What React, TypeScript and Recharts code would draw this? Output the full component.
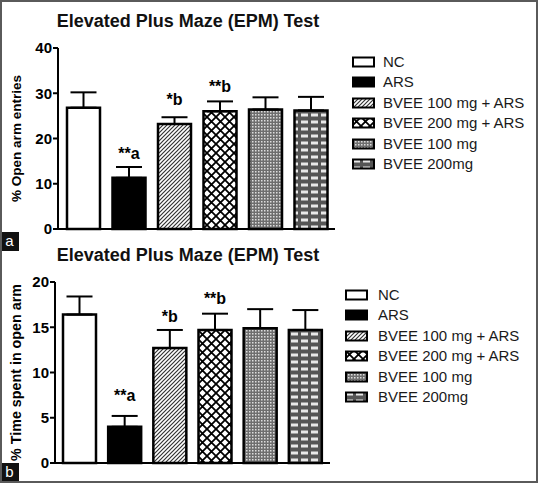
import React from "react";
import { BarChart, Bar, XAxis, YAxis, ErrorBar, Cell, LabelList } from "recharts";

const categories = [
    "NC",
    "ARS",
    "BVEE 100 mg + ARS",
    "BVEE 200 mg + ARS",
    "BVEE 100 mg",
    "BVEE 200mg",
];
const openArmMean = [26.8, 11.3, 23.2, 26.0, 26.4, 26.2];
const openArmErr = [3.4, 2.4, 1.5, 2.2, 2.7, 3.0];
const timeMean = [16.4, 4.0, 12.7, 14.7, 14.9, 14.7];
const timeErr = [2.0, 1.2, 2.0, 1.8, 2.1, 2.2];
const sigLabels = ["", "**a", "*b", "**b", "", ""];
const openArmTicks = [0, 10, 20, 30, 40];
const timeTicks = [0, 5, 10, 15, 20];

const fills = ["#fff", "#000", "url(#pB100A)", "url(#pB200A)", "url(#pB100)", "url(#pB200)"];
const FONT = "'Liberation Sans', Arial, sans-serif";

const build = (mean: number[], err: number[]) =>
    categories.map((name, i) => ({ name, value: mean[i], err: [0, err[i]], sig: sigLabels[i] }));

const Patterns = () => (
    <svg width={0} height={0} style={{ position: "absolute" }}>
        <defs>
            <pattern id="pB100A" width={4} height={4} patternUnits="userSpaceOnUse">
                <rect width={4} height={4} fill="#fff" />
                <path d="M0,4 L4,0 M-1,1 L1,-1 M3,5 L5,3" stroke="#333" strokeWidth={1.2} />
            </pattern>
            <pattern id="pB200A" width={9} height={9} patternUnits="userSpaceOnUse">
                <rect width={9} height={9} fill="#fff" />
                <path d="M0,0 L9,9 M9,0 L0,9" stroke="#000" strokeWidth={1.8} />
            </pattern>
            <pattern id="pB100" width={3} height={3} patternUnits="userSpaceOnUse">
                <rect width={3} height={3} fill="#6e6e6e" />
                <rect width={1.5} height={1.5} fill="#ddd" />
            </pattern>
            <pattern id="pB200" width={10} height={7} patternUnits="userSpaceOnUse">
                <rect width={10} height={7} fill="#555" />
                <rect x={1} y={1.5} width={7} height={3} fill="#e8e8e8" />
            </pattern>
        </defs>
    </svg>
);

interface PanelProps {
    top: number;
    width: number;
    height: number;
    marginTop: number;
    axisWidth: number;
    data: ReturnType<typeof build>;
    ticks: number[];
    yLabel: string;
    labelSize: number;
    labelOffset: number;
    padL: number;
    padR: number;
    sigOffset: number;
}

const Panel: React.FC<PanelProps> = ({
    top, width, height, marginTop, axisWidth, data, ticks, yLabel, labelSize, labelOffset, padL, padR, sigOffset,
}) => (
    <div style={{ position: "absolute", left: 0, top }}>
        <BarChart width={width} height={height} data={data} margin={{ top: marginTop, right: 10, left: 0, bottom: 0 }}>
            <XAxis
                dataKey="name"
                tick={false}
                tickLine={false}
                height={11}
                axisLine={{ stroke: "#000", strokeWidth: 2 }}
                padding={{ left: padL, right: padR }}
            />
            <YAxis
                width={axisWidth}
                domain={[ticks[0], ticks[ticks.length - 1]]}
                ticks={ticks}
                interval={0}
                tickSize={5}
                tickMargin={1}
                axisLine={{ stroke: "#000", strokeWidth: 2 }}
                tickLine={{ stroke: "#000", strokeWidth: 2 }}
                tick={{ fill: "#000", fontSize: 15, fontWeight: 700 }}
                label={{
                    value: yLabel,
                    angle: -90,
                    position: "insideLeft",
                    offset: labelOffset,
                    style: { textAnchor: "middle", fontWeight: 700, fontSize: labelSize, fill: "#000" },
                }}
            />
            <Bar dataKey="value" barSize={33} stroke="#000" strokeWidth={2.5} isAnimationActive={false}>
                {data.map((_, i) => (
                    <Cell key={i} fill={fills[i]} />
                ))}
                <ErrorBar dataKey="err" width={13} stroke="#000" strokeWidth={2} direction="y" />
                <LabelList
                    dataKey="sig"
                    position="top"
                    offset={sigOffset}
                    style={{ fill: "#000", fontSize: 16, fontWeight: 700 }}
                />
            </Bar>
        </BarChart>
    </div>
);

const Legend: React.FC<{ left: number; top: number; step: number; textLeft: number }> = ({ left, top, step, textLeft }) => (
    <div style={{ position: "absolute", left, top }}>
        {categories.map((c, i) => (
            <div key={c} style={{ position: "absolute", top: i * step, left: 0, height: 14, whiteSpace: "nowrap" }}>
                <svg width={23} height={12} style={{ position: "absolute", left: 0, top: 1 }}>
                    <rect x={1} y={1.5} width={21} height={9} fill={fills[i]} stroke="#000" strokeWidth={2} />
                </svg>
                <span style={{ position: "absolute", left: textLeft, top: -2, fontSize: 15, lineHeight: "18px", color: "#1a1a1a" }}>
                    {c}
                </span>
            </div>
        ))}
    </div>
);

const Title: React.FC<{ top: number }> = ({ top }) => (
    <div
        style={{
            position: "absolute",
            left: 0,
            width: 376,
            top,
            textAlign: "center",
            fontSize: 18,
            fontWeight: 700,
            lineHeight: "18px",
            color: "#111",
        }}
    >
        Elevated Plus Maze (EPM) Test
    </div>
);

const Tag: React.FC<{ top: number; text: string }> = ({ top, text }) => (
    <div
        style={{
            position: "absolute",
            left: 0,
            top,
            width: 19,
            height: 19,
            background: "#111",
            color: "#fff",
            fontSize: 15,
            lineHeight: "18px",
            textAlign: "center",
        }}
    >
        {text}
    </div>
);

export default function App() {
    const openData = build(openArmMean, openArmErr);
    const timeData = build(timeMean, timeErr);
    return (
        <div
            style={{
                position: "absolute",
                left: 0,
                top: 0,
                width: 538,
                height: 483,
                boxSizing: "border-box",
                border: "2px solid #5a5a5a",
                background: "#fff",
                fontFamily: FONT,
                overflow: "hidden",
            }}
        >
            <Patterns />
            <div style={{ position: "absolute", left: -2, top: -2, width: 538, height: 483 }}>
                <Title top={12} />
                <Panel
                    top={0}
                    width={345}
                    height={240}
                    marginTop={48}
                    axisWidth={58}
                    data={openData}
                    ticks={openArmTicks}
                    yLabel="% Open arm entries"
                    labelSize={13.5}
                    labelOffset={16}
                    padL={3}
                    padR={1}
                    sigOffset={19}
                />
                <Legend left={352} top={55} step={20.4} textLeft={31} />
                <Tag top={232} text="a" />
                <Title top={246} />
                <Panel
                    top={240}
                    width={340}
                    height={234}
                    marginTop={42}
                    axisWidth={55}
                    data={timeData}
                    ticks={timeTicks}
                    yLabel="% Time spent in open arm"
                    labelSize={14.3}
                    labelOffset={16}
                    padL={2}
                    padR={2}
                    sigOffset={26}
                />
                <Legend left={345} top={288} step={20.4} textLeft={33} />
                <Tag top={463} text="b" />
            </div>
        </div>
    );
}
